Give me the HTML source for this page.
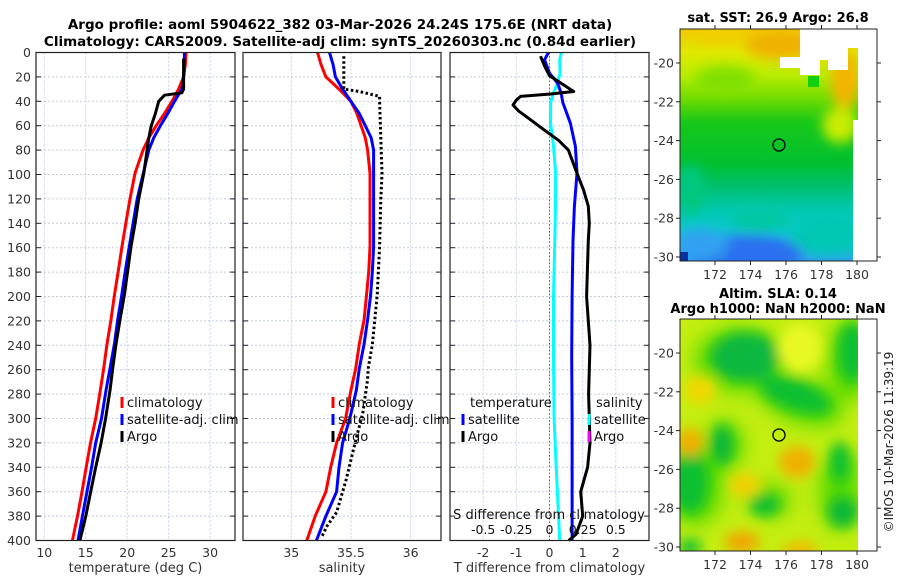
<!DOCTYPE html>
<html><head><meta charset="utf-8">
<style>
html,body{margin:0;padding:0;background:#fff;}
svg{display:block;font-family:"DejaVu Sans","Liberation Sans",sans-serif;}
</style></head>
<body>
<svg id="fig" width="900" height="580" viewBox="0 0 900 580" xmlns="http://www.w3.org/2000/svg">
<defs>
  <filter id="blur6" x="-50%" y="-50%" width="200%" height="200%"><feGaussianBlur stdDeviation="6"/></filter>
  <filter id="blur10" x="-50%" y="-50%" width="200%" height="200%"><feGaussianBlur stdDeviation="10"/></filter>
  <clipPath id="clipSST"><rect x="680" y="29" width="178" height="232"/></clipPath>
  <clipPath id="clipSLA"><rect x="680" y="319" width="178" height="232"/></clipPath>
  <linearGradient id="sstGrad" x1="0" y1="29" x2="0" y2="261" gradientUnits="userSpaceOnUse">
    <stop offset="0" stop-color="#f2c800"/>
    <stop offset="0.1" stop-color="#e0e800"/>
    <stop offset="0.2" stop-color="#b8ec00"/>
    <stop offset="0.3" stop-color="#70dc00"/>
    <stop offset="0.4" stop-color="#18c818"/>
    <stop offset="0.58" stop-color="#00c030"/>
    <stop offset="0.68" stop-color="#00c070"/>
    <stop offset="0.78" stop-color="#00c8b0"/>
    <stop offset="0.9" stop-color="#10c8d8"/>
    <stop offset="1" stop-color="#30a0f0"/>
  </linearGradient>
</defs>
<g id="layer"></g>
<text x="340" y="29" text-anchor="middle" font-weight="bold" font-size="13.5">Argo profile: aoml 5904622_382 03-Mar-2026 24.24S 175.6E (NRT data)</text>
<text x="340" y="46" text-anchor="middle" font-weight="bold" font-size="13.5">Climatology: CARS2009. Satellite-adj clim: synTS_20260303.nc (0.84d earlier)</text>

<!-- SST map -->
<g>
  <g clip-path="url(#clipSST)">
    <rect x="680" y="29" width="178" height="232" fill="url(#sstGrad)"/>
    <g filter="url(#blur6)">
      <ellipse cx="745" cy="255" rx="58" ry="20" fill="#2a70f0"/>
      <ellipse cx="700" cy="245" rx="28" ry="16" fill="#30a0f0"/>
      <ellipse cx="830" cy="235" rx="40" ry="20" fill="#00c8b4"/>
      <ellipse cx="760" cy="220" rx="30" ry="10" fill="#00c8a0"/>
      <ellipse cx="780" cy="45" rx="35" ry="14" fill="#f0b000"/>
      <ellipse cx="720" cy="36" rx="25" ry="8" fill="#f0d000"/>
      <ellipse cx="845" cy="80" rx="14" ry="30" fill="#f4b400"/>
      <ellipse cx="840" cy="125" rx="18" ry="18" fill="#c8ec00"/>
      <ellipse cx="725" cy="80" rx="30" ry="14" fill="#80e000"/>
      <ellipse cx="690" cy="190" rx="14" ry="25" fill="#00c880"/>
    </g>
    <rect x="680" y="252" width="8" height="9" fill="#0830a0"/>
    <path d="M800 29 H858 V48 H848 V70 H828 V60 H800 Z" fill="#fff"/>
    <path d="M780 57 H820 V75 H800 V68 H780 Z" fill="#fff"/>
    <path d="M853 120 H858 V261 H853 Z" fill="#fff"/>
    <rect x="808" y="76" width="11" height="11" fill="#10d010"/>
  </g>
  <rect x="680" y="29" width="197" height="232" fill="none" stroke="#222" stroke-width="1"/>
  <circle cx="779" cy="145" r="6" fill="none" stroke="#000" stroke-width="1.3"/>
  <text x="778" y="22" text-anchor="middle" font-weight="bold" font-size="13">sat. SST: 26.9 Argo: 26.8</text>
</g>

<!-- SLA map -->
<g>
  <g clip-path="url(#clipSLA)">
    <rect x="680" y="319" width="178" height="232" fill="#c4ee10"/>
    <g filter="url(#blur10)">
      <ellipse cx="740" cy="360" rx="45" ry="32" fill="#50d800"/>
      <ellipse cx="800" cy="400" rx="45" ry="22" fill="#50d800" transform="rotate(20 800 400)"/>
      <ellipse cx="850" cy="360" rx="22" ry="40" fill="#50d800"/>
      <ellipse cx="695" cy="485" rx="28" ry="40" fill="#50d800"/>
      <ellipse cx="840" cy="490" rx="20" ry="40" fill="#50d800"/>
      <ellipse cx="770" cy="500" rx="22" ry="16" fill="#60d800"/>
      <ellipse cx="725" cy="445" rx="18" ry="25" fill="#50d800"/>
    </g>
    <g filter="url(#blur6)">
      <ellipse cx="745" cy="357" rx="34" ry="24" fill="#10b840"/>
      <ellipse cx="795" cy="395" rx="38" ry="15" fill="#10c030" transform="rotate(20 795 395)"/>
      <ellipse cx="852" cy="352" rx="14" ry="30" fill="#10c030"/>
      <ellipse cx="800" cy="348" rx="22" ry="24" fill="#e8f820"/>
      <ellipse cx="690" cy="482" rx="18" ry="32" fill="#10c030"/>
      <ellipse cx="722" cy="445" rx="11" ry="20" fill="#10b838"/>
      <ellipse cx="840" cy="462" rx="10" ry="20" fill="#10c030"/>
      <ellipse cx="843" cy="512" rx="15" ry="15" fill="#10b838"/>
      <ellipse cx="765" cy="505" rx="15" ry="11" fill="#10c030"/>
      <ellipse cx="690" cy="547" rx="12" ry="8" fill="#10c030"/>
      <ellipse cx="690" cy="442" rx="14" ry="14" fill="#f0b000"/>
      <ellipse cx="797" cy="462" rx="18" ry="16" fill="#f0b000"/>
      <ellipse cx="742" cy="542" rx="18" ry="11" fill="#f0a800"/>
      <ellipse cx="800" cy="550" rx="18" ry="8" fill="#f0b800"/>
      <ellipse cx="700" cy="390" rx="16" ry="14" fill="#f0d800"/>
      <ellipse cx="745" cy="485" rx="16" ry="12" fill="#f0d000"/>
    </g>
  </g>
  <rect x="858" y="319" width="19" height="232" fill="#fff"/>
  <rect x="680" y="319" width="197" height="232" fill="none" stroke="#222" stroke-width="1"/>
  <circle cx="779" cy="435" r="6" fill="none" stroke="#000" stroke-width="1.3"/>
  <text x="778" y="298" text-anchor="middle" font-weight="bold" font-size="13">Altim. SLA: 0.14</text>
  <text x="778" y="313" text-anchor="middle" font-weight="bold" font-size="13">Argo h1000: NaN h2000: NaN</text>
</g>
<text transform="translate(893 442) rotate(-90)" text-anchor="middle" font-size="12" fill="#222">©IMOS 10-Mar-2026 11:39:19</text>

<script>
// ---- data ----
const depthTicks = [0,20,40,60,80,100,120,140,160,180,200,220,240,260,280,300,320,340,360,380,400];
const tempTicks = [10,15,20,25,30];
const salTicks = [35,35.5,36];
const tdiffTicks = [-2,-1,0,1,2];
const sdiffTicks = [-0.5,-0.25,0,0.25,0.5];
const sdiffTickLabels = ["-0.5","-0.25","0","0.25","0.5"];

const climDepth = [0,10,20,30,40,50,60,70,80,99,120,139,159,179,199,219,239,259,277,300,320,340,360,380,400];
const tClim = [27.1,27.0,26.8,26.2,25.4,24.5,23.5,22.6,21.9,20.94,20.34,19.86,19.37,18.93,18.45,18.05,17.56,17.17,16.76,16.2,15.57,15.05,14.55,14.0,13.39];
const tSat  = [26.9,26.9,26.8,26.6,25.7,24.9,24.0,23.2,22.6,21.94,21.2,20.73,20.25,19.77,19.33,18.85,18.45,17.93,17.44,16.9,16.2,15.7,15.15,14.6,14.07];
const argoTDepth = [5,20,30,33,35,40,50,60,70,80,99,120,139,159,179,199,219,239,259,277,300,320,340,360,380,400];
const tArgo = [26.8,26.8,26.8,26.6,24.5,23.8,23.4,22.9,22.6,22.4,22.0,21.38,20.98,20.46,20.06,19.65,19.13,18.65,18.25,17.93,17.4,16.85,16.2,15.6,15.0,14.3];

const sClim = [35.22,35.25,35.29,35.40,35.50,35.55,35.585,35.62,35.64,35.66,35.66,35.66,35.66,35.65,35.63,35.61,35.57,35.54,35.5,35.455,35.38,35.33,35.29,35.2,35.13];
const sSat  = [35.32,35.35,35.37,35.43,35.50,35.57,35.62,35.67,35.69,35.69,35.69,35.69,35.69,35.68,35.665,35.64,35.61,35.57,35.545,35.49,35.43,35.40,35.38,35.29,35.21];
const argoSDepth = [3,30,32,36,40,70,99,120,159,199,219,239,259,268,295,322,350,377,388,398];
const sArgo = [35.44,35.44,35.57,35.74,35.74,35.75,35.76,35.75,35.74,35.72,35.70,35.68,35.645,35.64,35.6,35.53,35.46,35.38,35.30,35.25];

const diffDepth = [0,6,17,25,33,41,58,77,99,126,154,200,250,300,350,400];
const tDiffSat = [-0.03,-0.15,0.0,0.24,0.35,0.4,0.63,0.78,0.83,0.75,0.71,0.68,0.67,0.68,0.68,0.68];
const sDiffSat = [0.09,0.077,0.08,0.06,0.03,0.008,0.008,0.03,0.046,0.045,0.04,0.03,0.03,0.035,0.055,0.077];
const argoDiffDepth = [3,11,19,23,32,34,36,39,43,48,55,63,72,80,99,113,126,140,154,200,240,280,320,340,360,380,395,400];
const tDiffArgo = [-0.27,-0.15,0.0,0.23,0.73,0.03,-0.87,-1.0,-1.1,-0.93,-0.58,-0.18,0.27,0.57,0.83,1.03,1.17,1.2,1.17,1.12,1.22,1.18,1.22,1.15,0.94,1.0,0.8,0.58];

// ---- helpers ----
const NS = "http://www.w3.org/2000/svg";
const layer = document.getElementById('layer');
function mk(tag, attrs, parent){ const e=document.createElementNS(NS,tag); for(const k in attrs) e.setAttribute(k,attrs[k]); (parent||layer).appendChild(e); return e; }
const Y0=52.5, Y1=540.5;
function yD(d){ return Y0 + (d/400)*(Y1-Y0); }
function xScale(x0,x1,v0,v1){ return v => x0 + (v-v0)/(v1-v0)*(x1-x0); }

const panels = [
  {name:'temperature-panel', x0:36, x1:235, v0:9, v1:33, ticks:tempTicks, labels:tempTicks.map(String), xlabel:'temperature (deg C)'},
  {name:'salinity-panel', x0:243, x1:441, v0:34.595, v1:36.255, ticks:salTicks, labels:salTicks.map(String), xlabel:'salinity'},
  {name:'difference-panel', x0:450, x1:649, v0:-3, v1:3, ticks:tdiffTicks, labels:tdiffTicks.map(String), xlabel:'T difference from climatology'}
];

panels.forEach((p,i)=>{
  const g = mk('g',{});
  
  
  const sx = xScale(p.x0,p.x1,p.v0,p.v1);
  p.sx = sx; p.g = g;
  depthTicks.forEach(d=>{
    if(d>0 && d<400){
      const l = mk('line',{x1:p.x0,x2:p.x1,y1:yD(d),y2:yD(d),stroke:'#c4cce6','stroke-width':1,'stroke-dasharray':'2,2'},g);
      
      
    }
    mk('line',{x1:p.x0,x2:p.x0+5,y1:yD(d),y2:yD(d),stroke:'#222'},g);
    mk('line',{x1:p.x1-5,x2:p.x1,y1:yD(d),y2:yD(d),stroke:'#222'},g);
    if(i===0){
      const t = mk('text',{x:31,y:yD(d)+4.5,'text-anchor':'end','font-size':12.5,fill:'#333'},g);
      
      
      t.textContent = d;
    }
  });
  p.ticks.forEach((v,k)=>{
    const l = mk('line',{x1:sx(v),x2:sx(v),y1:Y0,y2:Y1,stroke:'#c4cce6','stroke-width':1,'stroke-dasharray':'2,2'},g);
    
    
    const t = mk('text',{x:sx(v),y:557,'text-anchor':'middle','font-size':12.5,fill:'#333'},g);
    
    
    t.textContent = p.labels[k];
  });
  const xl = mk('text',{x:(p.x0+p.x1)/2,y:572,'text-anchor':'middle','font-size':13,fill:'#333'},g);
  
  
  xl.textContent = p.xlabel;
});

function profile(g, xs, ds, sx, color, extra, name){
  const pts = xs.map((v,k)=> sx(v).toFixed(1)+','+yD(ds[k]).toFixed(1)).join(' ');
  const pl = mk('polyline',Object.assign({points:pts,fill:'none',stroke:color,'stroke-width':3,'stroke-linejoin':'round'},extra||{}),g);
  
  
  return pl;
}
const P1=panels[0], P2=panels[1], P3=panels[2];
profile(P1.g,tClim,climDepth,P1.sx,'#ff0000',{},'temperature-climatology-line');
profile(P1.g,tSat,climDepth,P1.sx,'#0000ff',{},'temperature-satellite-line');
profile(P1.g,tArgo,argoTDepth,P1.sx,'#000000',{},'temperature-argo-line');
profile(P2.g,sClim,climDepth,P2.sx,'#ff0000',{},'salinity-climatology-line');
profile(P2.g,sSat,climDepth,P2.sx,'#0000ff',{},'salinity-satellite-line');
profile(P2.g,sArgo,argoSDepth,P2.sx,'#000000',{'stroke-dasharray':'2.5,2.5'},'salinity-argo-line');
const zl = mk('line',{x1:P3.sx(0),x2:P3.sx(0),y1:Y0,y2:Y1,stroke:'#6a6a30','stroke-width':1,'stroke-dasharray':'1.5,2'},P3.g);


const sdx = xScale(P3.x0,P3.x1,-0.75,0.75);
profile(P3.g,sDiffSat,diffDepth,sdx,'#00ffff',{},'salinity-difference-satellite-line');
profile(P3.g,tDiffSat,diffDepth,P3.sx,'#0000ff',{},'temperature-difference-satellite-line');
profile(P3.g,tDiffArgo,argoDiffDepth,P3.sx,'#000000',{},'temperature-difference-argo-line');
sdiffTicks.forEach((v,k)=>{
  const t = mk('text',{x:sdx(v),y:534,'text-anchor':'middle','font-size':12.5,fill:'#111'},P3.g);
  
  
  t.textContent = sdiffTickLabels[k];
});
const sdl = mk('text',{x:549,y:519,'text-anchor':'middle','font-size':13,fill:'#111'},P3.g);


sdl.textContent='S difference from climatology';

panels.forEach(p=>{
  const r = mk('rect',{x:p.x0,y:Y0,width:p.x1-p.x0,height:Y1-Y0,fill:'none',stroke:'#222','stroke-width':1.2},p.g);
  
  
});

function legendItem(g,x,y,color,label,name){
  const it = mk('g',{},g);
  
  
  if(color) mk('rect',{x:x-1.5,y:y-9,width:3,height:11,fill:color},it);
  const t = mk('text',{x:x+5,y:y+1,'font-size':13,fill:'#111'},it);
  t.textContent = label;
}
legendItem(P1.g,122,406,'#ff0000','climatology','legend-entry-climatology');
legendItem(P1.g,122,423,'#0000ff','satellite-adj. clim','legend-entry-satellite');
legendItem(P1.g,122,440,'#000000','Argo','legend-entry-argo');
legendItem(P2.g,333,406,'#ff0000','climatology','legend-entry-climatology');
legendItem(P2.g,333,423,'#0000ff','satellite-adj. clim','legend-entry-satellite');
legendItem(P2.g,333,440,'#000000','Argo','legend-entry-argo');
legendItem(P3.g,465,406,null,'temperature','legend-heading-temperature');
legendItem(P3.g,463,423,'#0000ff','satellite','legend-entry-t-satellite');
legendItem(P3.g,463,440,'#000000','Argo','legend-entry-t-argo');
legendItem(P3.g,591,406,null,'salinity','legend-heading-salinity');
legendItem(P3.g,589,423,'#00ffff','satellite','legend-entry-s-satellite');
legendItem(P3.g,589,440,'#ff00ff','Argo','legend-entry-s-argo');

const latTicks = [-20,-22,-24,-26,-28,-30];
const lonTicks = [172,174,176,178,180];
function mapAxes(top, lat20y, name){
  const g = mk('g',{});
  
  
  const lx = v => 715 + (v-172)*17.75;
  const ly = v => lat20y + (-20 - v)*19.4;
  latTicks.forEach(v=>{
    mk('line',{x1:680,x2:676,y1:ly(v),y2:ly(v),stroke:'#222'},g);
    mk('line',{x1:877,x2:881,y1:ly(v),y2:ly(v),stroke:'#222'},g);
    const t = mk('text',{x:674,y:ly(v)+4.5,'text-anchor':'end','font-size':12.5,fill:'#333'},g);
    
    
    t.textContent = v;
  });
  lonTicks.forEach(v=>{
    mk('line',{x1:lx(v),x2:lx(v),y1:top+232,y2:top+236,stroke:'#222'},g);
    mk('line',{x1:lx(v),x2:lx(v),y1:top,y2:top-4,stroke:'#222'},g);
    const t = mk('text',{x:lx(v),y:top+250,'text-anchor':'middle','font-size':12.5,fill:'#333'},g);
    
    
    t.textContent = v;
  });
}
mapAxes(29,63,'sst-map-axes');
mapAxes(319,353,'sla-map-axes');
</script>
</svg>
</body></html>
